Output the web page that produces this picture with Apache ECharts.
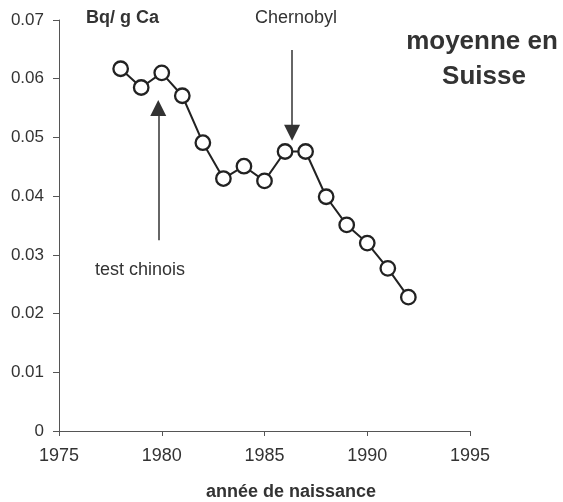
<!DOCTYPE html>
<html><head><meta charset="utf-8">
<script src="https://cdn.jsdelivr.net/npm/echarts@6/dist/echarts.min.js"></script>
<style>html,body{margin:0;padding:0;background:#fff}#c{width:563px;height:502px}</style>
</head><body><div id="c"></div>
<script>
var years = [1978,1979,1980,1981,1982,1983,1984,1985,1986,1987,1988,1989,1990,1991,1992];
var values = [0.0617,0.0585,0.0610,0.0571,0.0491,0.0430,0.0451,0.0426,0.0476,0.0476,0.0399,0.0351,0.0320,0.0277,0.0228];
var xTicks = [1975,1980,1985,1990,1995];
var yTicks = [0,0.01,0.02,0.03,0.04,0.05,0.06,0.07];
var chernobylArrow = {x:1986.34, from:0.0649, to:0.0508};
var chinoisArrow = {x:1979.83, from:0.0325, to:0.0550};

var font = 'Liberation Sans, Arial, sans-serif';
var chart = echarts.init(document.getElementById('c'));
chart.setOption({
  animation:false,
  backgroundColor:'#fff',
  grid:{left:59,right:93,top:20,bottom:71,containLabel:false},
  xAxis:{type:'value',min:xTicks[0],max:xTicks[xTicks.length-1],interval:5,
    axisLine:{lineStyle:{color:'#555',width:1}},
    axisTick:{show:true,length:5,lineStyle:{color:'#555'}},
    axisLabel:{fontFamily:font,fontSize:18,color:'#333',margin:16,
      formatter:function(v){return String(v);}},
    splitLine:{show:false}},
  yAxis:{type:'value',min:yTicks[0],max:yTicks[yTicks.length-1],interval:0.01,
    axisLine:{show:true,lineStyle:{color:'#555',width:1}},
    axisTick:{show:true,length:6,lineStyle:{color:'#555'}},
    axisLabel:{fontFamily:font,fontSize:17,color:'#333',margin:15,
      formatter:function(v){return v===0?'0':v.toFixed(2);}},
    splitLine:{show:false}},
  series:[{
    type:'line',
    data:years.map(function(y,i){return [y,values[i]];}),
    symbol:'circle',symbolSize:14.5,
    itemStyle:{color:'#fff',borderColor:'#222',borderWidth:2.3},
    lineStyle:{color:'#222',width:2},
    z:3,
    markLine:{
      silent:true,
      symbol:['none','triangle'],
      symbolSize:[16,16],
      lineStyle:{color:'#333',width:1.5,type:'solid'},
      itemStyle:{color:'#333'},
      label:{show:false},
      data:[
        [{coord:[chernobylArrow.x,chernobylArrow.from]},{coord:[chernobylArrow.x,chernobylArrow.to]}],
        [{coord:[chinoisArrow.x,chinoisArrow.from]},{coord:[chinoisArrow.x,chinoisArrow.to]}]
      ]
    }
  }],
  graphic:[
    {type:'text',x:86,y:9,style:{text:'Bq/ g Ca',font:'bold 18px '+font,fill:'#333'}},
    {type:'text',x:296,y:9,style:{text:'Chernobyl',font:'18px '+font,fill:'#333',align:'center'}},
    {type:'text',x:95,y:261,style:{text:'test chinois',font:'18px '+font,fill:'#333'}},
    {type:'text',x:482,y:29,style:{text:'moyenne en',font:'bold 26px '+font,fill:'#333',align:'center'}},
    {type:'text',x:484,y:64,style:{text:'Suisse',font:'bold 26px '+font,fill:'#333',align:'center'}},
    {type:'text',x:291,y:483,style:{text:'année de naissance',font:'bold 18px '+font,fill:'#333',align:'center'}}
  ]
});
</script></body></html>
